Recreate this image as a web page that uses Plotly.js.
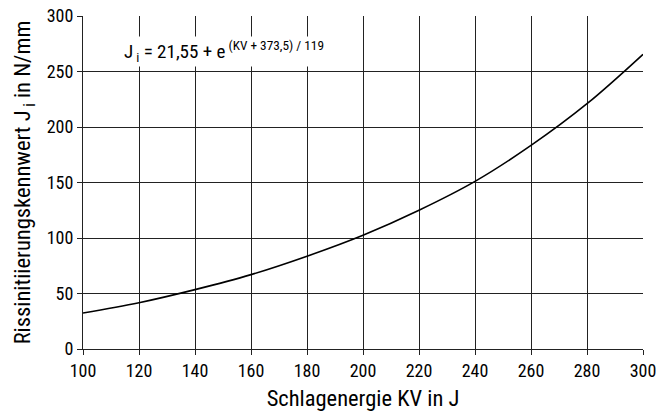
<!DOCTYPE html>
<html>
<head>
<meta charset="utf-8">
<script src="https://cdn.plot.ly/plotly-3.0.1.min.js"></script>
<style>html,body{margin:0;padding:0;background:#fff;}#chart{width:660px;height:414px;}</style>
</head>
<body>
<div id="chart"></div>
<script>
const kv = [100, 120, 140, 160, 180, 200, 220, 240, 260, 280, 300];
const ji = [32.4, 41.7, 53.5, 67, 83.6, 102.5, 125, 151, 183.4, 221, 265.5];
const xTicks = [100, 120, 140, 160, 180, 200, 220, 240, 260, 280, 300];
const yTicks = [0, 50, 100, 150, 200, 250, 300];
const xTitle = 'Schlagenergie KV in J';
const yTitle = 'Rissinitiierungskennwert J<sub> i</sub> in N/mm';
const formula = 'J<sub> i</sub> = 21,55 + e<sup> (KV + 373,5) / 119</sup>';

const FONT = 'Roboto Condensed, Liberation Sans Narrow, Arial Narrow, sans-serif';

const trace = {
  x: kv, y: ji, type: 'scatter', mode: 'lines',
  line: {color: '#000', width: 1.6, shape: 'spline'},
  hoverinfo: 'skip'
};

const layout = {
  width: 660, height: 414,
  margin: {l: 83, r: 17, t: 16, b: 65},
  paper_bgcolor: '#fff', plot_bgcolor: '#fff',
  font: {family: FONT, color: '#000', size: 18},
  showlegend: false,
  xaxis: {
    range: [100, 300], tickvals: xTicks, ticktext: xTicks.map(String),
    showgrid: true, gridcolor: '#222', gridwidth: 1,
    zeroline: false, showline: true, linecolor: '#222', linewidth: 1,
    ticks: 'outside', ticklen: 5, tickcolor: '#222',
    tickfont: {size: 18, family: FONT},
    title: {text: xTitle, font: {size: 22.5, family: FONT}, standoff: 10}
  },
  yaxis: {
    range: [0, 300], tickvals: yTicks, ticktext: yTicks.map(String),
    showgrid: true, gridcolor: '#222', gridwidth: 1,
    zeroline: false, showline: true, linecolor: '#222', linewidth: 1,
    ticks: 'outside', ticklen: 5, tickcolor: '#222',
    tickfont: {size: 18, family: FONT},
    title: {text: yTitle, font: {size: 22.5, family: FONT}, standoff: 9}
  },
  annotations: [{
    xref: 'x', yref: 'y', x: 114, y: 268, xanchor: 'left', yanchor: 'middle',
    text: formula, showarrow: false, bgcolor: '#fff',
    font: {size: 19, family: FONT, color: '#000'}
  }]
};

Plotly.newPlot('chart', [trace], layout, {displayModeBar: false, staticPlot: true});
</script>
</body>
</html>
